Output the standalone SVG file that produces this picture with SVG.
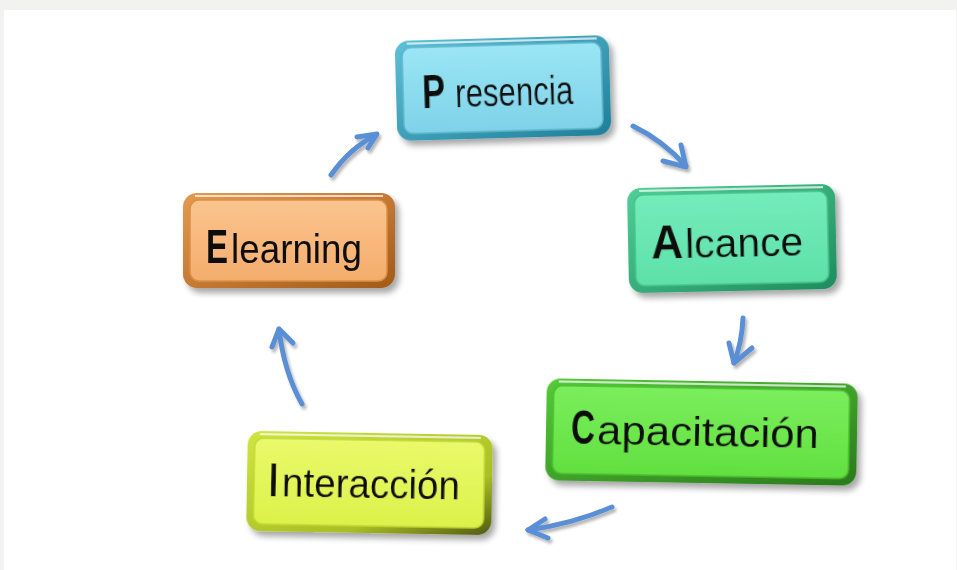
<svg xmlns="http://www.w3.org/2000/svg" width="957" height="570" viewBox="0 0 957 570">
<defs>
<style>
.lbl{font-family:"Liberation Sans",Arial,sans-serif;font-size:40px;fill:#111}
.ini{font-weight:bold;font-size:48px}
.arr{fill:none;stroke:#5a8fd6;stroke-width:5;stroke-linecap:round;stroke-linejoin:round}
.hl{fill:none;stroke:#ffffff;stroke-opacity:0.7;stroke-width:2}
</style>
<filter id="sh" x="-10%" y="-10%" width="125%" height="135%">
<feGaussianBlur in="SourceAlpha" stdDeviation="3"/>
<feOffset dx="4" dy="5" result="b"/>
<feComponentTransfer><feFuncA type="linear" slope="0.35"/></feComponentTransfer>
<feMerge><feMergeNode/><feMergeNode in="SourceGraphic"/></feMerge>
</filter>
<filter id="ash" x="-30%" y="-30%" width="160%" height="160%">
<feGaussianBlur in="SourceAlpha" stdDeviation="1.5"/>
<feOffset dx="2" dy="3"/>
<feComponentTransfer><feFuncA type="linear" slope="0.3"/></feComponentTransfer>
<feMerge><feMergeNode/><feMergeNode in="SourceGraphic"/></feMerge>
</filter>
<linearGradient id="gP" x1="0" y1="0" x2="0" y2="1"><stop offset="0" stop-color="#9ae6f5"/><stop offset="1" stop-color="#7ed2e8"/></linearGradient>
<linearGradient id="bP" x1="0" y1="0" x2="1" y2="1"><stop offset="0" stop-color="#5cc0d6"/><stop offset="1" stop-color="#1f7f99"/></linearGradient>
<linearGradient id="gA" x1="0" y1="0" x2="0" y2="1"><stop offset="0" stop-color="#74ecbb"/><stop offset="1" stop-color="#5ee0a8"/></linearGradient>
<linearGradient id="bA" x1="0" y1="0" x2="1" y2="1"><stop offset="0" stop-color="#4fcf96"/><stop offset="1" stop-color="#1f8c5e"/></linearGradient>
<linearGradient id="gC" x1="0" y1="0" x2="0" y2="1"><stop offset="0" stop-color="#7aee5c"/><stop offset="1" stop-color="#62e040"/></linearGradient>
<linearGradient id="bC" x1="0" y1="0" x2="1" y2="1"><stop offset="0" stop-color="#55cb38"/><stop offset="1" stop-color="#2a7a1c"/></linearGradient>
<linearGradient id="gI" x1="0" y1="0" x2="0" y2="1"><stop offset="0" stop-color="#e9f96a"/><stop offset="1" stop-color="#dcf24a"/></linearGradient>
<linearGradient id="bI" x1="0" y1="0" x2="1" y2="1"><stop offset="0" stop-color="#cfe640"/><stop offset="0.7" stop-color="#a8bf25"/><stop offset="1" stop-color="#4f5a10"/></linearGradient>
<linearGradient id="gE" x1="0" y1="0" x2="0" y2="1"><stop offset="0" stop-color="#fbc48e"/><stop offset="1" stop-color="#f4ad6c"/></linearGradient>
<linearGradient id="bE" x1="0" y1="0" x2="1" y2="1"><stop offset="0" stop-color="#e69a50"/><stop offset="1" stop-color="#a35a18"/></linearGradient>
</defs>
<rect x="0" y="0" width="957" height="570" fill="#f2f2f1"/>
<rect x="4" y="10" width="952" height="560" fill="#ffffff"/>

<g id="presencia" transform="rotate(-1.6 503 88)" filter="url(#sh)">
<rect x="396" y="38" width="214" height="100" rx="14" fill="url(#bP)"/>
<rect x="403" y="45" width="199" height="86" rx="9" fill="url(#gP)" stroke="#5fb6cc" stroke-width="1.5"/>
<path class="hl" d="M408 41 H598"/>
<text class="lbl" x="422" y="106"><tspan class="ini" textLength="23" lengthAdjust="spacingAndGlyphs">P</tspan><tspan dx="10" textLength="118" lengthAdjust="spacingAndGlyphs">resencia</tspan></text>
</g>

<g id="alcance" transform="rotate(-1.2 732 238)" filter="url(#sh)">
<rect x="628" y="186" width="208" height="105" rx="14" fill="url(#bA)"/>
<rect x="635" y="193" width="193" height="91" rx="9" fill="url(#gA)" stroke="#45c28a" stroke-width="1.5"/>
<path class="hl" d="M640 189 H824"/>
<text class="lbl" x="651" y="257" font-size="43"><tspan class="ini" textLength="32" lengthAdjust="spacingAndGlyphs">A</tspan><tspan dx="2" textLength="118" lengthAdjust="spacingAndGlyphs">lcance</tspan></text>
</g>

<g id="capacitacion" transform="rotate(1 701 432)" filter="url(#sh)">
<rect x="546" y="381" width="311" height="102" rx="14" fill="url(#bC)"/>
<rect x="553" y="388" width="296" height="88" rx="9" fill="url(#gC)" stroke="#4cbe30" stroke-width="1.5"/>
<path class="hl" d="M558 384 H845"/>
<text class="lbl" x="571" y="446"><tspan class="ini" textLength="24" lengthAdjust="spacingAndGlyphs">C</tspan><tspan dx="2" textLength="222" lengthAdjust="spacingAndGlyphs">apacitación</tspan></text>
</g>

<g id="interaccion" transform="rotate(1 370 483)" filter="url(#sh)">
<rect x="247" y="433" width="245" height="100" rx="14" fill="url(#bI)"/>
<rect x="254" y="440" width="230" height="86" rx="9" fill="url(#gI)" stroke="#c3d836" stroke-width="1.5"/>
<path class="hl" d="M259 436 H480"/>
<text class="lbl" x="269" y="498"><tspan class="ini" textLength="9" lengthAdjust="spacingAndGlyphs">I</tspan><tspan dx="4" textLength="178" lengthAdjust="spacingAndGlyphs">nteracción</tspan></text>
</g>

<g id="elearning" filter="url(#sh)">
<rect x="183" y="193" width="212" height="95" rx="14" fill="url(#bE)"/>
<rect x="190" y="200" width="197" height="81" rx="9" fill="url(#gE)" stroke="#dc9044" stroke-width="1.5"/>
<path class="hl" d="M195 196 H383"/>
<text class="lbl" x="206" y="263"><tspan class="ini" textLength="22" lengthAdjust="spacingAndGlyphs">E</tspan><tspan dx="3" textLength="131" lengthAdjust="spacingAndGlyphs">learning</tspan></text>
</g>

<g id="connectors" filter="url(#ash)">
<path class="arr" d="M331 175 Q350 148 376 135"/>
<path class="arr" d="M357 137 L377 134 L368 148"/>
<path class="arr" d="M633 126 Q662 140 686 166"/>
<path class="arr" d="M663 161 L686 167 L681 145"/>
<path class="arr" d="M743 318 Q742 342 734 363"/>
<path class="arr" d="M729 343 L734 363 L752 348"/>
<path class="arr" d="M612 507 Q572 524 528 530"/>
<path class="arr" d="M545 519 L528 530 L548 538"/>
<path class="arr" d="M302 404 Q284 372 279 329"/>
<path class="arr" d="M272 347 L279 329 L293 343"/>
</g>
</svg>
